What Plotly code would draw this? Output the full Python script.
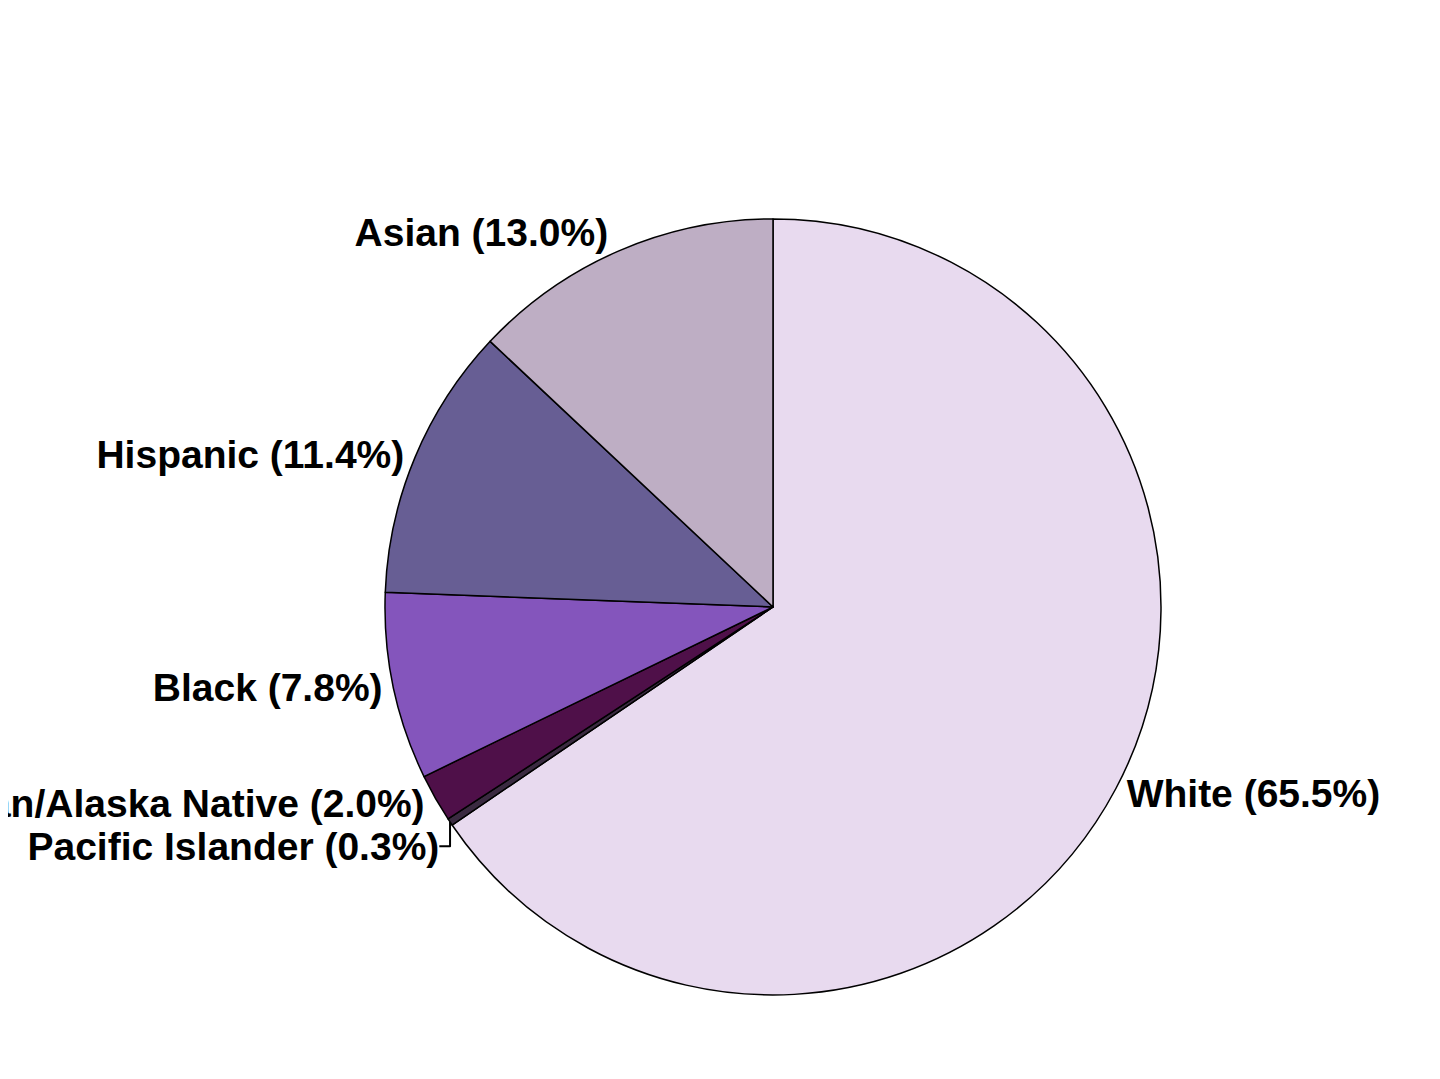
import plotly.graph_objects as go

# race / ethnicity shares (%)
groups = ["White", "Pacific Islander", "American Indian/Alaska Native",
          "Black", "Hispanic", "Asian"]
shares = [65.5, 0.3, 2.0, 7.8, 11.4, 13.0]
slice_colors = ["#E8DAEF", "#3A2A40", "#4F1049", "#8455BC", "#675E94", "#BEAEC4"]

fig = go.Figure()
fig.add_trace(go.Pie(
    labels=groups,
    values=shares,
    sort=False,
    direction="clockwise",
    rotation=0,
    automargin=False,
    marker=dict(colors=slice_colors, line=dict(color="black", width=1.5)),
    texttemplate="%{label} (%{value:.1f}%)",
    textposition="outside",
    outsidetextfont=dict(family="Liberation Sans", size=39, color="black",
                         weight="bold"),
    domain=dict(x=[0.2618, 0.8007], y=[0.0853, 0.8045]),
    showlegend=False,
    hoverinfo="label+value",
))

fig.update_layout(
    width=1440, height=1079,
    margin=dict(l=0, r=0, t=0, b=0, autoexpand=False),
    paper_bgcolor="white",
    plot_bgcolor="white",
    font=dict(family="Liberation Sans"),
)

fig.write_html("out.html")
